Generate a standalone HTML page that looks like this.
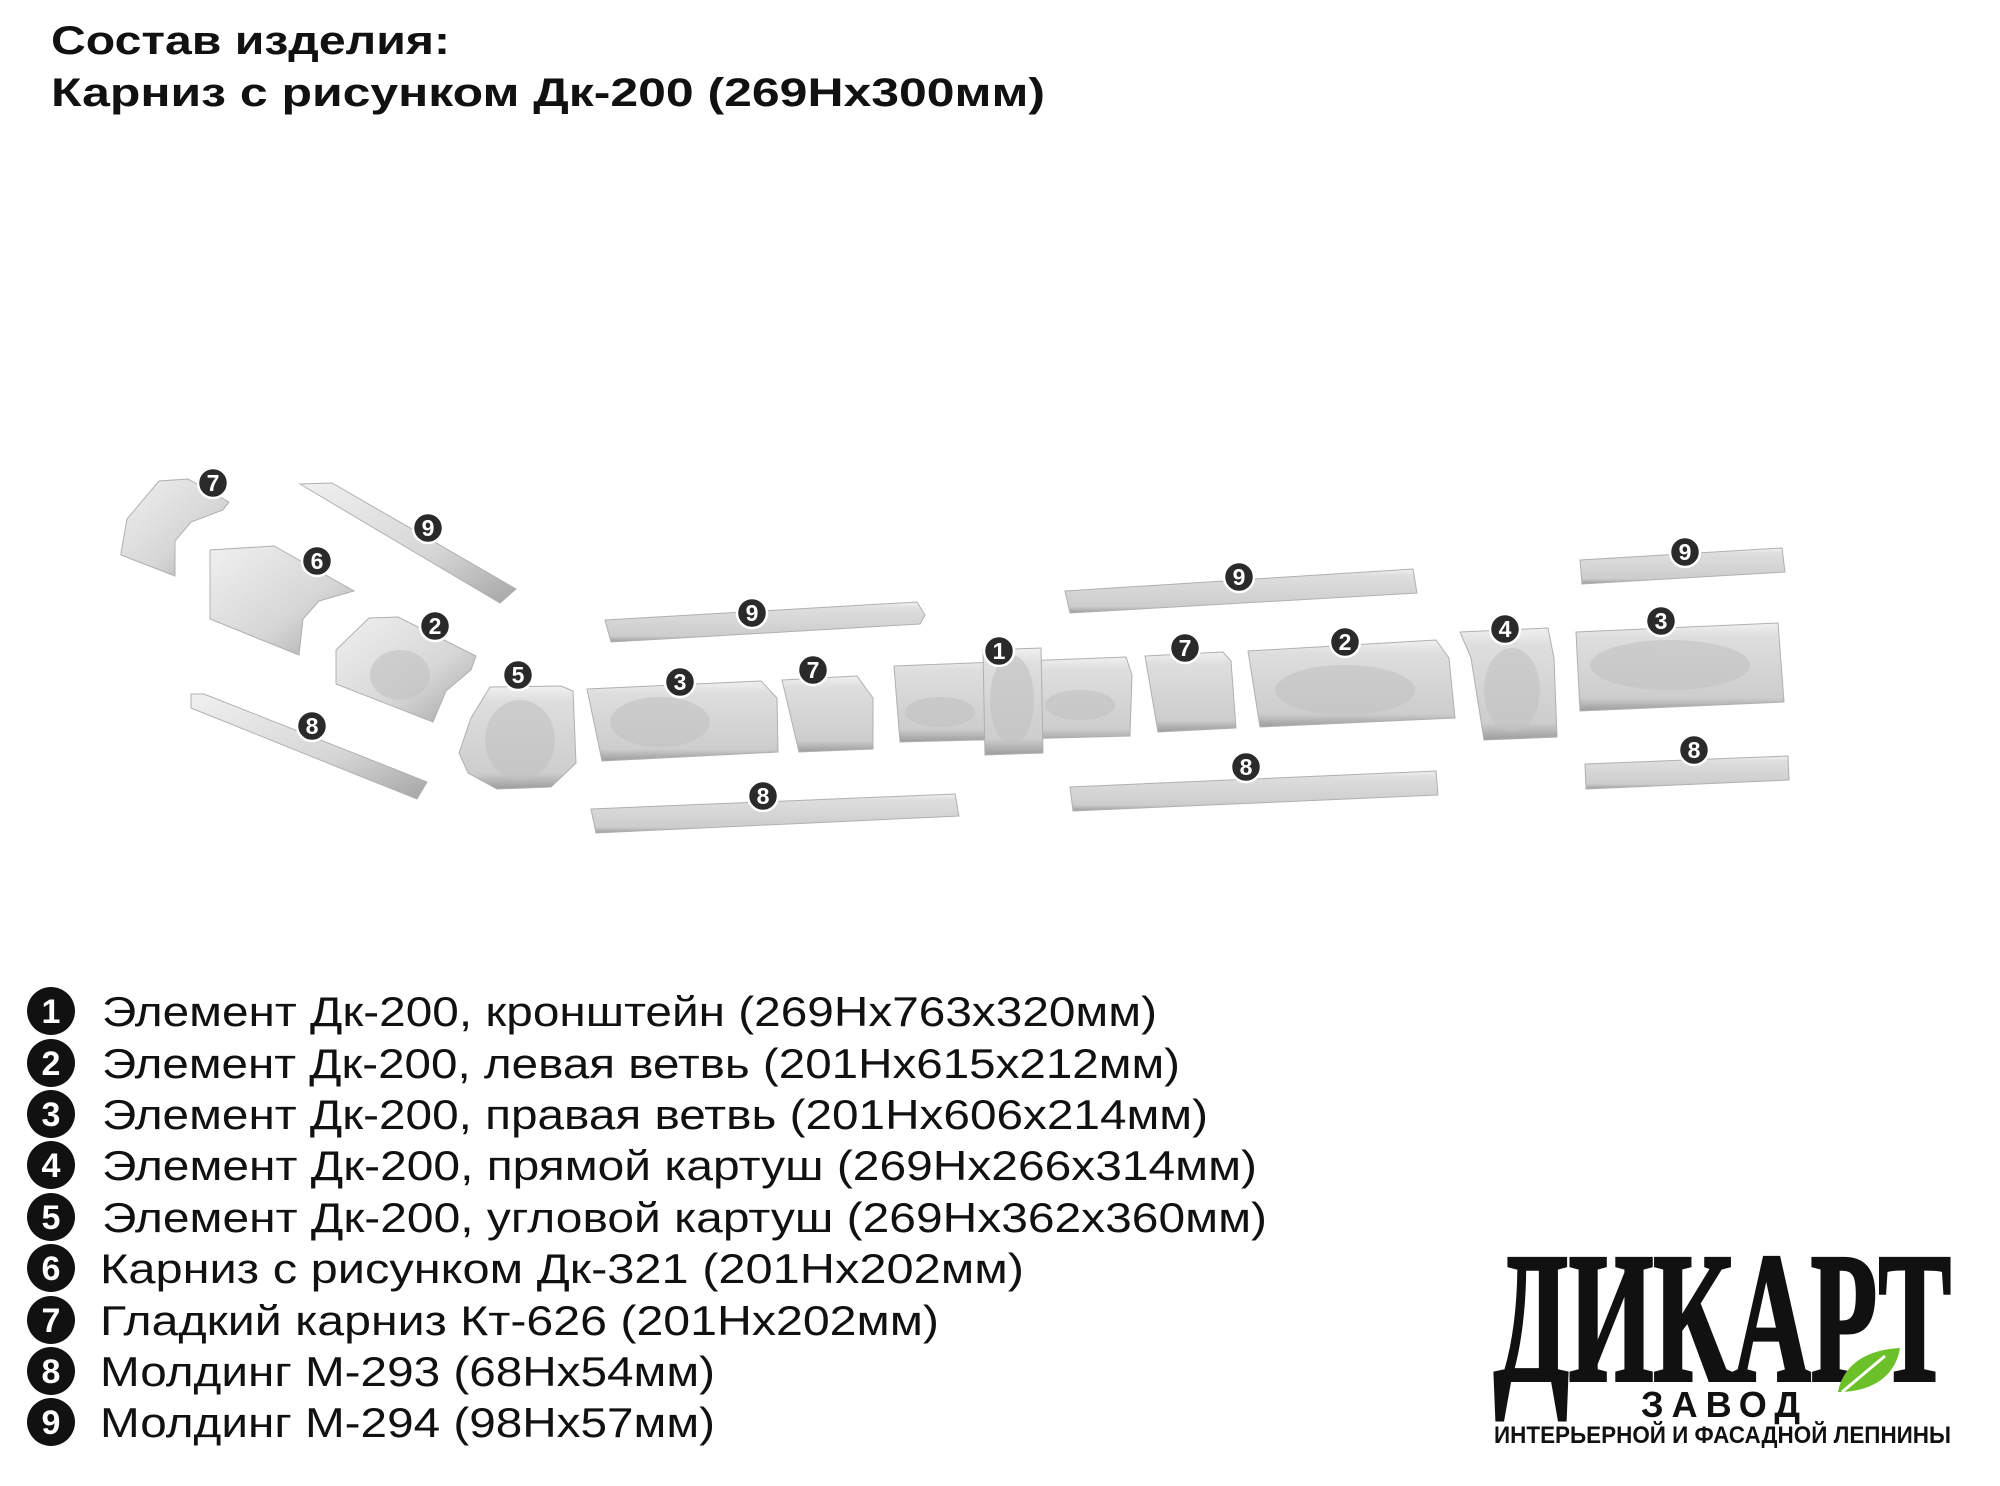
<!DOCTYPE html>
<html><head><meta charset="utf-8"><style>html,body{margin:0;padding:0;background:#fff}svg{display:block}</style></head>
<body>
<svg width="2000" height="1486" viewBox="0 0 2000 1486" xmlns="http://www.w3.org/2000/svg" font-family="'Liberation Sans', 'Noto Sans CJK SC', sans-serif">
<defs>
<linearGradient id="g" x1="0" y1="0" x2="0" y2="1"><stop offset="0" stop-color="#f0f0f0"/><stop offset="0.15" stop-color="#dedede"/><stop offset="0.85" stop-color="#cdcdcd"/><stop offset="1" stop-color="#9c9c9c"/></linearGradient>
<linearGradient id="gd" x1="0" y1="0" x2="1" y2="1"><stop offset="0" stop-color="#f0f0f0"/><stop offset="0.6" stop-color="#d6d6d6"/><stop offset="1" stop-color="#a5a5a5"/></linearGradient>
</defs>
<rect width="2000" height="1486" fill="#fff"/>
<text x="51" y="54" font-size="40" font-weight="bold" fill="#111" textLength="399" lengthAdjust="spacingAndGlyphs">Состав изделия:</text>
<text x="51" y="106" font-size="40" font-weight="bold" fill="#111" textLength="994" lengthAdjust="spacingAndGlyphs">Карниз с рисунком Дк-200 (269Нх300мм)</text>

<g stroke="#b0b0b0" stroke-width="1" fill="url(#g)">
<polygon points="121,553 127,519 159,481 188,479 229,502 223,510 191,522 175,541 175,576 121,555" fill="url(#gd)"/>
<polygon points="300,484 332,483 516,589 500,603" fill="url(#gd)"/>
<polygon points="210,550 274,546 354,591 319,601 303,619 299,655 210,619" fill="url(#gd)"/>
<polygon points="336,650 369,618 398,617 476,656 471,670 446,691 433,722 336,684" fill="url(#gd)"/>
<polygon points="191,694 204,694 427,782 417,799 191,708" fill="url(#gd)"/>
<polygon points="459,753 471,718 490,687 561,686 573,691 576,763 551,787 497,789 468,773"/>
<polygon points="587,689 761,681 777,698 778,752 602,761"/>
<polygon points="782,680 857,676 873,698 873,749 799,752"/>
<polygon points="605,620 917,602 925,615 920,624 611,642"/>
<polygon points="591,809 955,794 959,816 596,833"/>
<polygon points="894,666 1126,657 1132,675 1130,736 900,742"/>
<polygon points="983,650 1041,648 1043,753 985,755"/>
<polygon points="1145,656 1223,652 1231,661 1236,728 1158,732"/>
<polygon points="1248,651 1436,640 1449,658 1455,718 1260,727"/>
<polygon points="1460,632 1548,628 1554,658 1557,737 1484,740 1471,658"/>
<polygon points="1576,632 1778,623 1784,702 1580,711"/>
<polygon points="1065,591 1413,569 1417,593 1070,613"/>
<polygon points="1580,560 1782,548 1785,572 1582,584"/>
<polygon points="1070,787 1436,771 1438,795 1073,811"/>
<polygon points="1585,764 1788,756 1789,780 1586,789"/>
</g>
<g fill="#c2c2c2" opacity="0.6">
<ellipse cx="400" cy="675" rx="30" ry="25"/><ellipse cx="520" cy="740" rx="35" ry="40"/>
<ellipse cx="660" cy="722" rx="50" ry="25"/><ellipse cx="1012" cy="700" rx="22" ry="45"/>
<ellipse cx="940" cy="712" rx="35" ry="15"/><ellipse cx="1080" cy="705" rx="35" ry="15"/>
<ellipse cx="1345" cy="690" rx="70" ry="25"/><ellipse cx="1512" cy="690" rx="28" ry="42"/>
<ellipse cx="1670" cy="665" rx="80" ry="25"/>
</g>

<g font-size="23" font-weight="bold" fill="#fff" text-anchor="middle">
<g stroke="#fff" stroke-width="2.5" fill="#2a2a2a">
<circle cx="213" cy="483" r="15"/><circle cx="428" cy="528" r="15"/><circle cx="317" cy="561" r="15"/>
<circle cx="435" cy="626" r="15"/><circle cx="312" cy="726" r="15"/><circle cx="518" cy="675" r="15"/>
<circle cx="680" cy="682" r="15"/><circle cx="813" cy="670" r="15"/><circle cx="752" cy="613" r="15"/>
<circle cx="763" cy="796" r="15"/><circle cx="999" cy="651" r="15"/><circle cx="1185" cy="648" r="15"/>
<circle cx="1345" cy="642" r="15"/><circle cx="1505" cy="629" r="15"/><circle cx="1661" cy="621" r="15"/>
<circle cx="1239" cy="577" r="15"/><circle cx="1685" cy="552" r="15"/><circle cx="1246" cy="767" r="15"/>
<circle cx="1694" cy="750" r="15"/>
</g>
<text x="213" y="491">7</text><text x="428" y="536">9</text><text x="317" y="569">6</text>
<text x="435" y="634">2</text><text x="312" y="734">8</text><text x="518" y="683">5</text>
<text x="680" y="690">3</text><text x="813" y="678">7</text><text x="752" y="621">9</text>
<text x="763" y="804">8</text><text x="999" y="659">1</text><text x="1185" y="656">7</text>
<text x="1345" y="650">2</text><text x="1505" y="637">4</text><text x="1661" y="629">3</text>
<text x="1239" y="585">9</text><text x="1685" y="560">9</text><text x="1246" y="775">8</text>
<text x="1694" y="758">8</text>
</g>

<g fill="#111">
<circle cx="51" cy="1011" r="24"/><circle cx="51" cy="1063" r="24"/><circle cx="51" cy="1114" r="24"/>
<circle cx="51" cy="1165" r="24"/><circle cx="51" cy="1217" r="24"/><circle cx="51" cy="1268" r="24"/>
<circle cx="51" cy="1320" r="24"/><circle cx="51" cy="1371" r="24"/><circle cx="51" cy="1422" r="24"/>
</g>
<g fill="#fff" font-size="34" font-weight="bold" text-anchor="middle">
<text x="51" y="1023">1</text><text x="51" y="1075">2</text><text x="51" y="1126">3</text>
<text x="51" y="1177">4</text><text x="51" y="1229">5</text><text x="51" y="1280">6</text>
<text x="51" y="1332">7</text><text x="51" y="1383">8</text><text x="51" y="1434">9</text>
</g>
<g fill="#111" font-size="42">
<text x="102" y="1026" textLength="1055" lengthAdjust="spacingAndGlyphs">Элемент Дк-200, кронштейн (269Нх763х320мм)</text>
<text x="102" y="1078" textLength="1078" lengthAdjust="spacingAndGlyphs">Элемент Дк-200, левая ветвь (201Нх615х212мм)</text>
<text x="102" y="1129" textLength="1106" lengthAdjust="spacingAndGlyphs">Элемент Дк-200, правая ветвь (201Нх606х214мм)</text>
<text x="102" y="1180" textLength="1155" lengthAdjust="spacingAndGlyphs">Элемент Дк-200, прямой картуш (269Нх266х314мм)</text>
<text x="102" y="1232" textLength="1165" lengthAdjust="spacingAndGlyphs">Элемент Дк-200, угловой картуш (269Нх362х360мм)</text>
<text x="100" y="1283" textLength="924" lengthAdjust="spacingAndGlyphs">Карниз с рисунком Дк-321 (201Нх202мм)</text>
<text x="100" y="1335" textLength="839" lengthAdjust="spacingAndGlyphs">Гладкий карниз Кт-626 (201Нх202мм)</text>
<text x="100" y="1386" textLength="615" lengthAdjust="spacingAndGlyphs">Молдинг М-293 (68Нх54мм)</text>
<text x="100" y="1437" textLength="615" lengthAdjust="spacingAndGlyphs">Молдинг М-294 (98Нх57мм)</text>
</g>

<text x="1494" y="1380" font-family="'Liberation Serif', serif" font-size="185" font-weight="bold" fill="#111" stroke="#111" stroke-width="4" textLength="457" lengthAdjust="spacingAndGlyphs">ДИКАРТ</text>
<path d="M1900,1348 C1860,1350 1842,1370 1838,1392 C1870,1392 1895,1378 1900,1348 Z" fill="#6cc02a"/>
<path d="M1885,1356 L1842,1392" stroke="#fff" stroke-width="3"/>
<text x="1641" y="1417" font-size="36" font-weight="bold" fill="#111" textLength="159" lengthAdjust="spacing">ЗАВОД</text>
<text x="1494" y="1443" font-size="24" font-weight="bold" fill="#111" textLength="457" lengthAdjust="spacingAndGlyphs">ИНТЕРЬЕРНОЙ И ФАСАДНОЙ ЛЕПНИНЫ</text>
</svg>
</body></html>
